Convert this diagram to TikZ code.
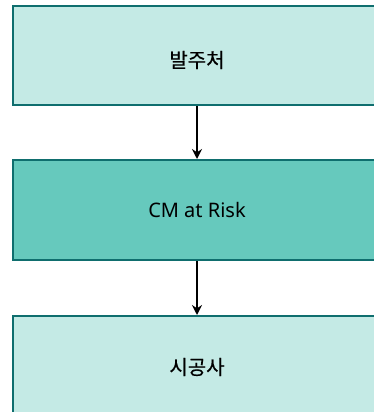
\documentclass[tikz,border=0pt]{standalone}
\usepackage{fontspec}
\setmainfont{Noto Sans}
\newfontfamily\kr[FakeBold=0.6]{Noto Sans CJK KR}
\usetikzlibrary{arrows.meta}
\definecolor{lightbox}{HTML}{C4EAE5}
\definecolor{midbox}{HTML}{66C9BD}
\definecolor{edge}{HTML}{0F6E6E}
\tikzset{
  boxstyle/.style={draw=edge, line width=2pt, minimum width=368pt, minimum height=99pt, inner sep=0pt, font=\fontsize{20}{24}\selectfont},
  conn/.style={line width=1.8pt, -{Stealth[length=10pt,width=10pt]}}
}
\begin{document}
\begin{tikzpicture}[x=1pt,y=-1pt]
\useasboundingbox (0,0) rectangle (374,412);
\clip (0,0) rectangle (374,412);
\node[boxstyle, fill=lightbox] (a) at (197,55.5) {\raisebox{-12pt}[0pt][0pt]{\kr 발주처}};
\node[boxstyle, fill=midbox, minimum height=100pt] (b) at (197,210) {CM at Risk};
\node[boxstyle, fill=lightbox] (c) at (197,365.5) {\raisebox{-9pt}[0pt][0pt]{\kr 시공사}};
\draw[conn] (a) -- (b);
\draw[conn] (b) -- (c);
\end{tikzpicture}
\end{document}
